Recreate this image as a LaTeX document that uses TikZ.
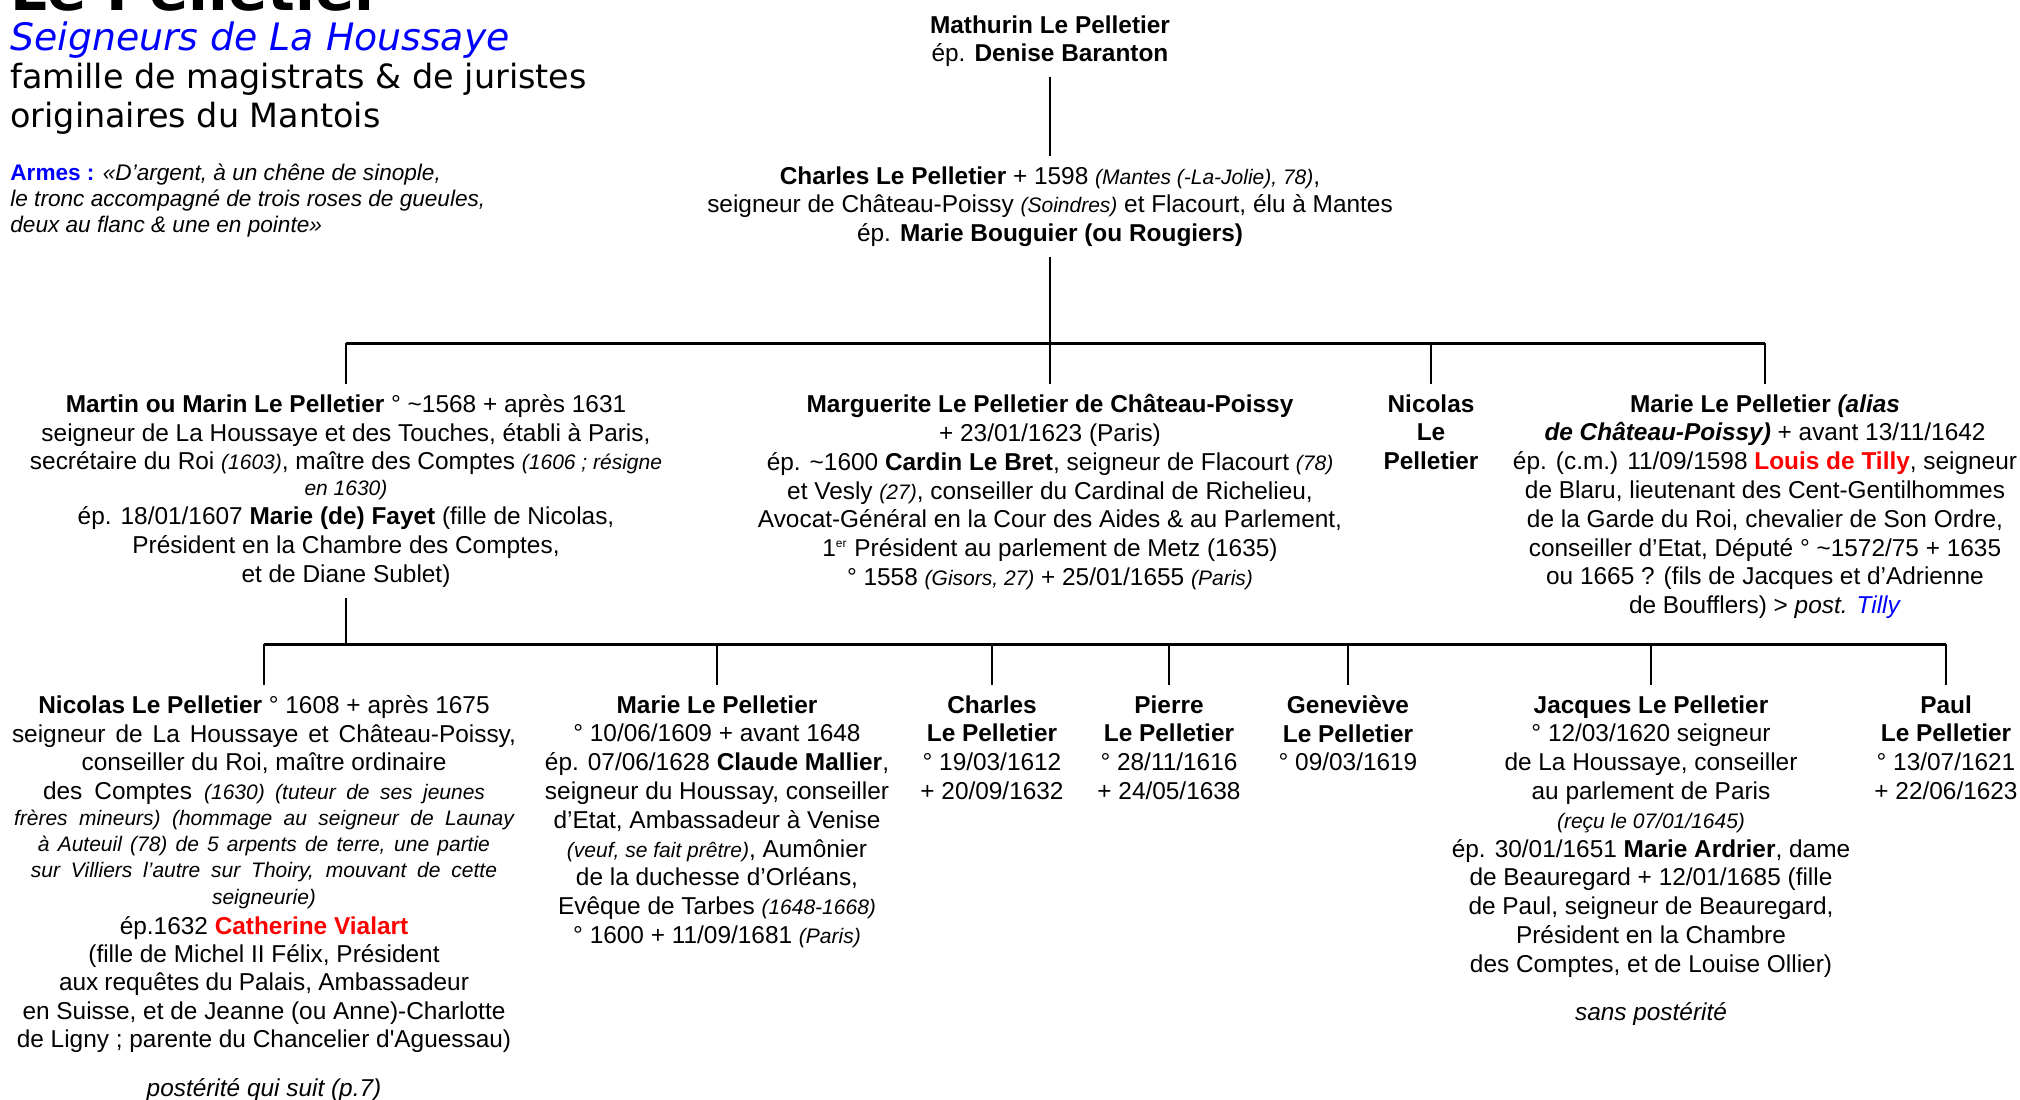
\documentclass[tikz,border=0pt]{standalone}
\usepackage{fontspec}
\setmainfont{Liberation Sans}
\newfontfamily\dejavu{DejaVu Sans}
\definecolor{tred}{RGB}{255,0,0}
\definecolor{tblue}{RGB}{0,0,255}
\newcommand{\smallit}{\fontsize{10.5}{12.6}\selectfont\itshape}
\newcommand{\jline}[2]{\makebox[#1][s]{#2}}
\tikzset{
  person/.style={align=center, inner sep=5pt, anchor=north, font=\fontsize{12.2}{14.4}\selectfont},
  link/.style={line width=1pt},
  bar/.style={line width=1.5pt},
  heading/.style={anchor=base west, inner sep=0pt},
}
\begin{document}
\begin{tikzpicture}[x=0.5pt,y=-0.5pt]
\useasboundingbox (0,0) rectangle (2020,1099);

% headings
\node[heading, font=\dejavu\bfseries\fontsize{29}{34}\selectfont] (title) at (10,10) {Le Pelletier};
\node[heading, font=\dejavu\itshape\fontsize{18.9}{22}\selectfont, text=tblue] (sub) at (10,50) {Seigneurs de La Houssaye};
\node[heading, font=\dejavu\fontsize{16.7}{20}\selectfont] (fam1) at (10,88) {famille de magistrats \& de juristes};
\node[heading, font=\dejavu\fontsize{16.7}{20}\selectfont] (fam2) at (10,127) {originaires du Mantois};
\node[anchor=north west, inner sep=0pt, align=left, font=\fontsize{11.3}{13}\selectfont\itshape] (armes) at (10,163)
 {{\upshape\bfseries\color{tblue}Armes :} «D’argent, à un chêne de sinople,\\
  le tronc accompagné de trois roses de gueules,\\
  deux au flanc \& une en pointe»};

% generation 0 and 1
\node[person] (mathurin) at (1050,5) {\textbf{Mathurin Le Pelletier}\\ ép. \textbf{Denise Baranton}};
\node[person] (charles) at (1050,156) {\textbf{Charles Le Pelletier} + 1598 {\smallit (Mantes (-La-Jolie), 78)},\\
 seigneur de Château-Poissy {\smallit (Soindres)} et Flacourt, élu à Mantes\\
 ép. \textbf{Marie Bouguier (ou Rougiers)}};

% generation 2
\node[person] (martin) at (346,384) {\textbf{Martin ou Marin Le Pelletier} ° \textasciitilde1568 + après 1631\\
 seigneur de La Houssaye et des Touches, établi à Paris,\\
 secrétaire du Roi {\smallit (1603)}, maître des Comptes {\smallit (1606 ; résigne}\\[-1.4pt]
 {\smallit en 1630)}\\
 ép. 18/01/1607 \textbf{Marie (de) Fayet} (fille de Nicolas,\\
 Président en la Chambre des Comptes,\\
 et de Diane Sublet)};
\node[person] (marguerite) at (1050,384) {\textbf{Marguerite Le Pelletier de Château-Poissy}\\
 + 23/01/1623 (Paris)\\
 ép. \textasciitilde1600 \textbf{Cardin Le Bret}, seigneur de Flacourt {\smallit (78)}\\
 et Vesly {\smallit (27)}, conseiller du Cardinal de Richelieu,\\
 Avocat-Général en la Cour des Aides \& au Parlement,\\
 1\textsuperscript{\fontsize{6}{6}\selectfont er} Président au parlement de Metz (1635)\\
 ° 1558 {\smallit (Gisors, 27)} + 25/01/1655 {\smallit (Paris)}};
\node[person] (nicolas) at (1431,384) {\textbf{Nicolas}\\ \textbf{Le}\\ \textbf{Pelletier}};
\node[person] (marie) at (1765,384) {\textbf{Marie Le Pelletier \textit{(alias}}\\
 \textbf{\textit{de Château-Poissy)}} + avant 13/11/1642\\
 ép. (c.m.) 11/09/1598 {\color{tred}\textbf{Louis de Tilly}}, seigneur\\
 de Blaru, lieutenant des Cent-Gentilhommes\\
 de la Garde du Roi, chevalier de Son Ordre,\\
 conseiller d’Etat, Député ° \textasciitilde1572/75 + 1635\\
 ou 1665 ? (fils de Jacques et d’Adrienne\\
 de Boufflers) > \textit{post.} {\color{tblue}\textit{Tilly}}};

% generation 3
\node[person] (nicolasB) at (264,685) {\textbf{Nicolas Le Pelletier} ° 1608 + après 1675\\
 \jline{252pt}{seigneur de La Houssaye et Château-Poissy,}\\
 conseiller du Roi, maître ordinaire\\
 \jline{221pt}{des Comptes {\smallit (1630) (tuteur de ses jeunes}}\\[-1.4pt]
 \jline{250pt}{\smallit frères mineurs) (hommage au seigneur de Launay}\\[-1.4pt]
 \jline{226pt}{\smallit à Auteuil (78) de 5 arpents de terre, une partie}\\[-1.4pt]
 \jline{233pt}{\smallit sur Villiers l’autre sur Thoiry, mouvant de cette}\\[-0.9pt]
 {\smallit seigneurie)}\\[0.6pt]
 ép.1632 {\color{tred}\textbf{Catherine Vialart}}\\[-0.4pt]
 (fille de Michel II Félix, Président\\[-0.4pt]
 \jline{205pt}{aux requêtes du Palais, Ambassadeur}\\
 en Suisse, et de Jeanne (ou Anne)-Charlotte\\[-0.4pt]
 de Ligny ; parente du Chancelier d\textquotesingle Aguessau)\\[10pt]
 \textit{postérité qui suit (p.7)}};
\node[person] (marieB) at (717,685) {\textbf{Marie Le Pelletier}\\
 ° 10/06/1609 + avant 1648\\
 ép. 07/06/1628 \textbf{Claude Mallier},\\
 seigneur du Houssay, conseiller\\
 d’Etat, Ambassadeur à Venise\\
 {\smallit (veuf, se fait prêtre)}, Aumônier\\
 de la duchesse d’Orléans,\\
 Evêque de Tarbes {\smallit (1648-1668)}\\
 ° 1600 + 11/09/1681 {\smallit (Paris)}};
\node[person] (charlesB) at (992,685) {\textbf{Charles}\\ \textbf{Le Pelletier}\\ ° 19/03/1612\\ + 20/09/1632};
\node[person] (pierre) at (1169,685) {\textbf{Pierre}\\ \textbf{Le Pelletier}\\ ° 28/11/1616\\ + 24/05/1638};
\node[person] (genevieve) at (1348,685) {\textbf{Geneviève}\\ \textbf{Le Pelletier}\\ ° 09/03/1619};
\node[person] (jacques) at (1651,685) {\textbf{Jacques Le Pelletier}\\
 ° 12/03/1620 seigneur\\
 de La Houssaye, conseiller\\
 au parlement de Paris\\
 {\smallit (reçu le 07/01/1645)}\\
 ép. 30/01/1651 \textbf{Marie Ardrier}, dame\\
 de Beauregard + 12/01/1685 (fille\\
 de Paul, seigneur de Beauregard,\\
 Président en la Chambre\\
 des Comptes, et de Louise Ollier)\\[9.6pt]
 \textit{sans postérité}};
\node[person] (paul) at (1946,685) {\textbf{Paul}\\ \textbf{Le Pelletier}\\ ° 13/07/1621\\ + 22/06/1623};

% connectors
\coordinate (bar1) at (1050,343);
\coordinate (bar2) at (346,644);
\draw[link] (mathurin.south) -- (charles.north);
\draw[link] (charles.south) -- (bar1);
\draw[bar] (martin.north |- bar1) -- (marie.north |- bar1);
\foreach \n in {martin,marguerite,nicolas,marie}
  \draw[link] (\n.north |- bar1) -- (\n.north);
\draw[link] (martin.south) -- (bar2);
\draw[bar] (nicolasB.north |- bar2) -- (paul.north |- bar2);
\foreach \n in {nicolasB,marieB,charlesB,pierre,genevieve,jacques,paul}
  \draw[link] (\n.north |- bar2) -- (\n.north);
\end{tikzpicture}
\end{document}
